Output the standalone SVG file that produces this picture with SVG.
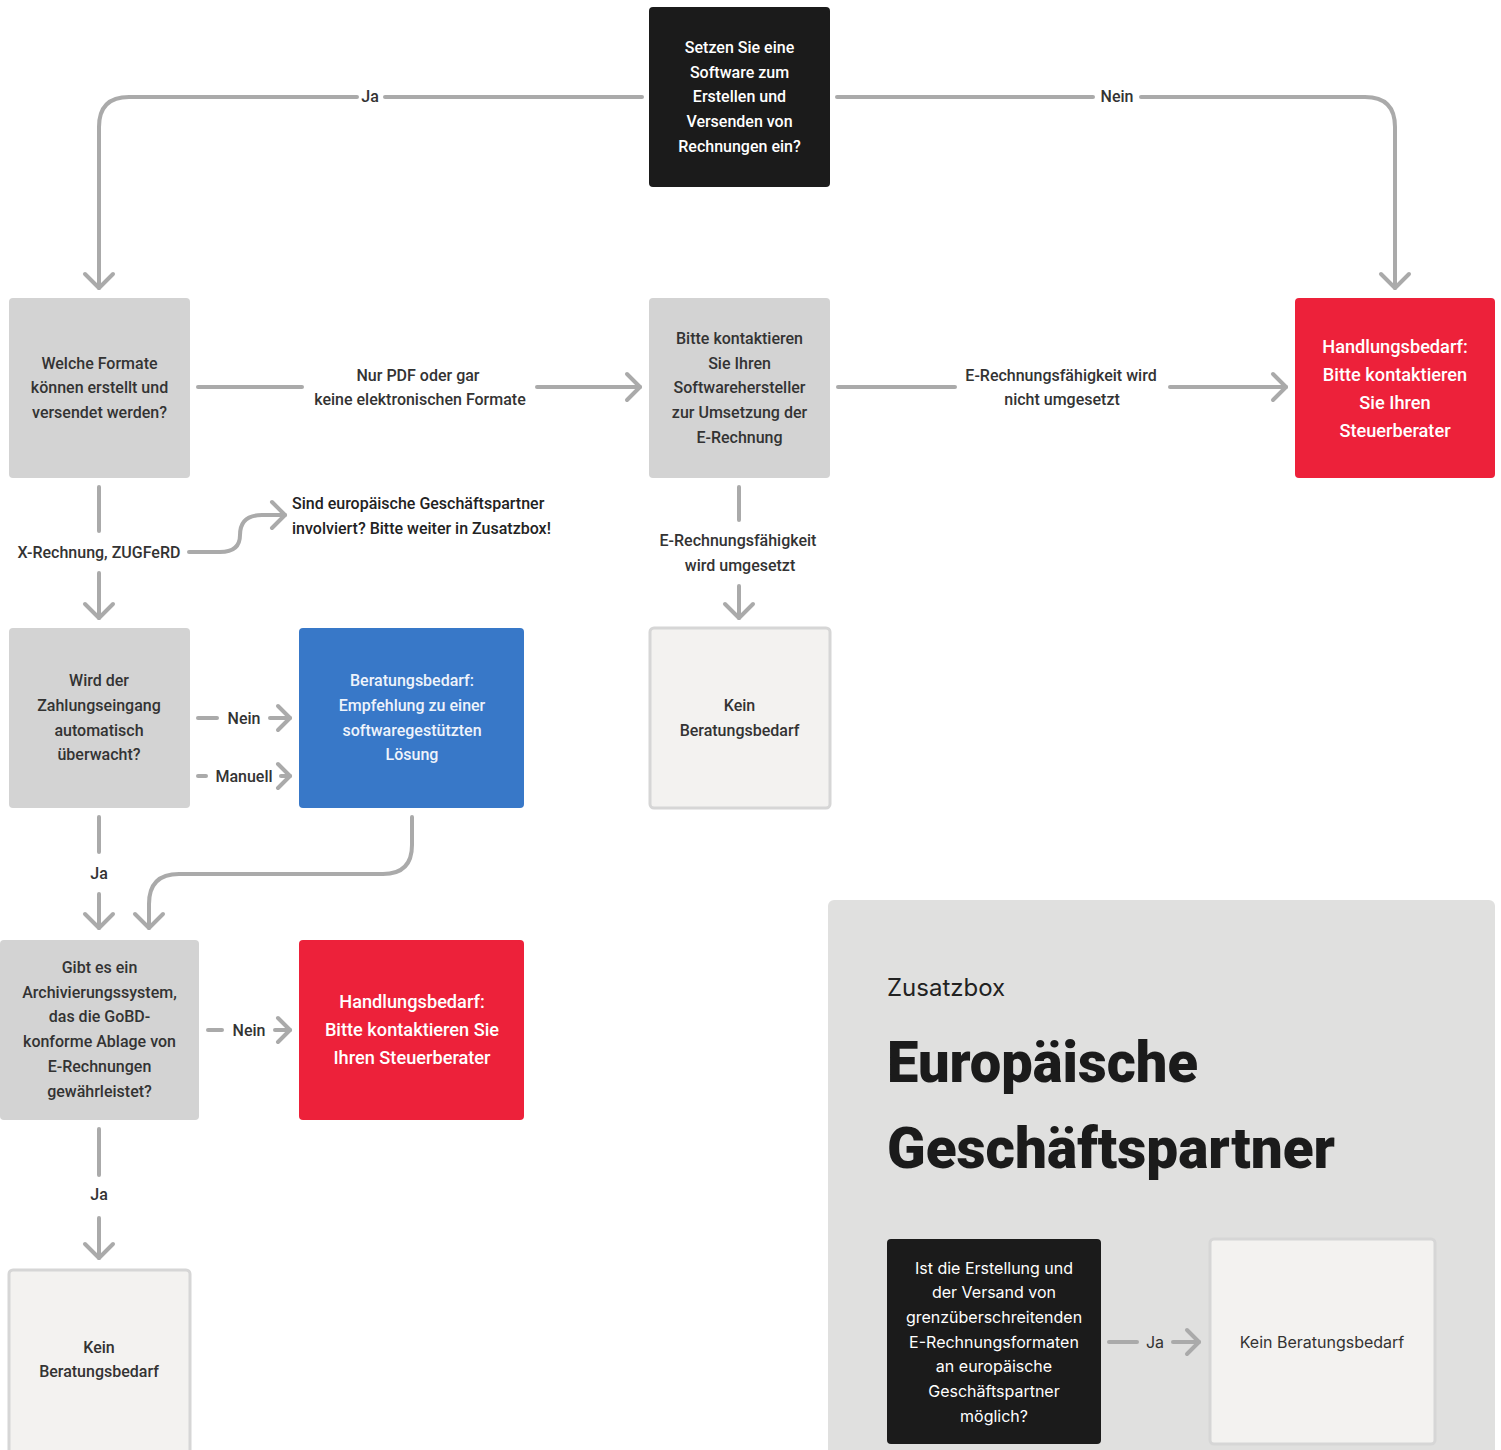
<svg xmlns="http://www.w3.org/2000/svg" width="1501" height="1450" viewBox="0 0 1501 1450">
<style>
.t{font-family:Roboto,"Liberation Sans",sans-serif;font-weight:500;font-size:16px;fill:#333;text-anchor:middle}
.w{fill:#fff}
.lg{font-size:18.2px}
.l{font-family:Roboto,"Liberation Sans",sans-serif;font-weight:500;font-size:16px;fill:#333;text-anchor:middle}
.i{font-family:Inter,"Liberation Sans",sans-serif;font-weight:400;font-size:16px;text-anchor:middle}
.c{fill:none;stroke:#aaa;stroke-width:4;stroke-linecap:round;stroke-linejoin:round}
.gray{fill:#d3d3d3}
.dark{fill:#1b1b1b}
.red{fill:#ed213a}
.blue{fill:#3878c8}
.end{fill:#f3f2f0;stroke:#d6d6d6;stroke-width:3}
</style>
<rect width="1501" height="1450" fill="#fff"/>

<g id="zusatzbox-bg">
<rect x="828" y="900" width="667" height="560" rx="6" fill="#e0e0df"/>
<text x="887" y="996" font-family="Inter,'Liberation Sans',sans-serif" font-size="24" fill="#222">Zusatzbox</text>
<text x="887" y="1082" font-family="Roboto,'Liberation Sans',sans-serif" font-weight="900" font-size="58" fill="#1b1b1b" textLength="311" lengthAdjust="spacingAndGlyphs">Europäische</text>
<text x="887" y="1168" font-family="Roboto,'Liberation Sans',sans-serif" font-weight="900" font-size="58" fill="#1b1b1b" textLength="448" lengthAdjust="spacingAndGlyphs">Geschäftspartner</text>
</g>

<g id="connectors">
<!-- top Ja -->
<path class="c" d="M642,97 L385,97"/>
<path class="c" d="M357,97 L129,97 Q99,97 99,127 L99,288"/>
<path class="c" d="M85,274 L99,288 L113,274"/>
<text class="l" x="370" y="102">Ja</text>
<!-- top Nein -->
<path class="c" d="M837,97 L1093,97"/>
<path class="c" d="M1141,97 L1365,97 Q1395,97 1395,127 L1395,288"/>
<path class="c" d="M1381,274 L1395,288 L1409,274"/>
<text class="l" x="1117" y="102">Nein</text>
<!-- Welche -> Bitte -->
<path class="c" d="M198,387 L302,387"/>
<path class="c" d="M537,387 L640,387"/>
<path class="c" d="M627,374 L640,387 L627,400"/>
<text class="l" x="418" y="381">Nur PDF oder gar</text>
<text class="l" x="420" y="405">keine elektronischen Formate</text>
<!-- Bitte -> red -->
<path class="c" d="M838,387 L955,387"/>
<path class="c" d="M1170,387 L1286,387"/>
<path class="c" d="M1273,374 L1286,387 L1273,400"/>
<text class="l" x="1061" y="381">E-Rechnungsfähigkeit wird</text>
<text class="l" x="1062" y="405">nicht umgesetzt</text>
<!-- Welche down -->
<path class="c" d="M99,487 L99,531"/>
<path class="c" d="M99,573 L99,618"/>
<path class="c" d="M85,604 L99,618 L113,604"/>
<text class="l" x="99" y="558">X-Rechnung, ZUGFeRD</text>
<path class="c" d="M189,552 L220,552 Q240,552 240,535 Q240,515 262,515 L285,515"/>
<path class="c" d="M272,502 L285,515 L272,528"/>
<text x="292" y="509" font-family="Roboto,'Liberation Sans',sans-serif" font-weight="500" font-size="16" fill="#222">Sind europäische Geschäftspartner</text>
<text x="292" y="534" font-family="Roboto,'Liberation Sans',sans-serif" font-weight="500" font-size="16" fill="#222">involviert? Bitte weiter in Zusatzbox!</text>
<!-- Bitte down -->
<path class="c" d="M739,487 L739,520"/>
<path class="c" d="M739,586 L739,618"/>
<path class="c" d="M725,604 L739,618 L753,604"/>
<text class="l" x="738" y="546">E-Rechnungsfähigkeit</text>
<text class="l" x="740" y="571">wird umgesetzt</text>
<!-- Wird -> blue -->
<path class="c" d="M198,718 L217,718"/>
<path class="c" d="M270,718 L290,718"/>
<path class="c" d="M278,706 L290,718 L278,730"/>
<text class="l" x="244" y="724">Nein</text>
<path class="c" d="M198,776 L206,776"/>
<path class="c" d="M281,776 L290,776"/>
<path class="c" d="M278,764 L290,776 L278,788"/>
<text class="l" x="244" y="782">Manuell</text>
<!-- Wird down -->
<path class="c" d="M99,817 L99,852"/>
<path class="c" d="M99,894 L99,928"/>
<path class="c" d="M85,914 L99,928 L113,914"/>
<text class="l" x="99" y="879">Ja</text>
<!-- blue down -->
<path class="c" d="M412,817 L412,845 Q412,874 383,874 L179,874 Q149,874 149,904 L149,928"/>
<path class="c" d="M135,914 L149,928 L163,914"/>
<!-- Gibt -> red -->
<path class="c" d="M208,1030 L222,1030"/>
<path class="c" d="M275,1030 L290,1030"/>
<path class="c" d="M278,1018 L290,1030 L278,1042"/>
<text class="l" x="249" y="1036">Nein</text>
<!-- Gibt down -->
<path class="c" d="M99,1129 L99,1175"/>
<path class="c" d="M99,1218 L99,1258"/>
<path class="c" d="M85,1244 L99,1258 L113,1244"/>
<text class="l" x="99" y="1200">Ja</text>
<!-- Zusatz Ja -->
<path class="c" d="M1109,1342 L1137,1342"/>
<path class="c" d="M1173,1342 L1199,1342"/>
<path class="c" d="M1187,1330 L1199,1342 L1187,1354"/>
<text class="i" x="1155" y="1348" fill="#333">Ja</text>
</g>

<g id="n-start">
<rect class="dark" x="649" y="7" width="181" height="180" rx="4"/>
<text class="t w"><tspan x="739.5" y="53">Setzen Sie eine</tspan><tspan x="739.5" y="78">Software zum</tspan><tspan x="739.5" y="102">Erstellen und</tspan><tspan x="739.5" y="127">Versenden von</tspan><tspan x="739.5" y="152">Rechnungen ein?</tspan></text>
</g>

<g id="n-formate">
<rect class="gray" x="9" y="298" width="181" height="180" rx="4"/>
<text class="t"><tspan x="99.5" y="369">Welche Formate</tspan><tspan x="99.5" y="393">können erstellt und</tspan><tspan x="99.5" y="418">versendet werden?</tspan></text>
</g>

<g id="n-hersteller">
<rect class="gray" x="649" y="298" width="181" height="180" rx="4"/>
<text class="t"><tspan x="739.5" y="344">Bitte kontaktieren</tspan><tspan x="739.5" y="369">Sie Ihren</tspan><tspan x="739.5" y="393">Softwarehersteller</tspan><tspan x="739.5" y="418">zur Umsetzung der</tspan><tspan x="739.5" y="443">E-Rechnung</tspan></text>
</g>

<g id="n-handlung1">
<rect class="red" x="1295" y="298" width="200" height="180" rx="4"/>
<text class="t w lg"><tspan x="1395" y="353">Handlungsbedarf:</tspan><tspan x="1395" y="381">Bitte kontaktieren</tspan><tspan x="1395" y="409">Sie Ihren</tspan><tspan x="1395" y="437">Steuerberater</tspan></text>
</g>

<g id="n-zahlung">
<rect class="gray" x="9" y="628" width="181" height="180" rx="4"/>
<text class="t"><tspan x="99" y="686">Wird der</tspan><tspan x="99" y="711">Zahlungseingang</tspan><tspan x="99" y="736">automatisch</tspan><tspan x="99" y="760">überwacht?</tspan></text>
</g>

<g id="n-beratung">
<rect class="blue" x="299" y="628" width="225" height="180" rx="4"/>
<text class="t" style="fill:#eef3fb"><tspan x="412" y="686">Beratungsbedarf:</tspan><tspan x="412" y="711">Empfehlung zu einer</tspan><tspan x="412" y="736">softwaregestützten</tspan><tspan x="412" y="760">Lösung</tspan></text>
</g>

<g id="n-kein1">
<rect class="end" x="650" y="628" width="180" height="180" rx="4"/>
<text class="t"><tspan x="739.5" y="711">Kein</tspan><tspan x="739.5" y="736">Beratungsbedarf</tspan></text>
</g>

<g id="n-archiv">
<rect class="gray" x="0" y="940" width="199" height="180" rx="4"/>
<text class="t"><tspan x="99.5" y="973">Gibt es ein</tspan><tspan x="99.5" y="998">Archivierungssystem,</tspan><tspan x="99.5" y="1022">das die GoBD-</tspan><tspan x="99.5" y="1047">konforme Ablage von</tspan><tspan x="99.5" y="1072">E-Rechnungen</tspan><tspan x="99.5" y="1097">gewährleistet?</tspan></text>
</g>

<g id="n-handlung2">
<rect class="red" x="299" y="940" width="225" height="180" rx="4"/>
<text class="t w lg"><tspan x="412" y="1008">Handlungsbedarf:</tspan><tspan x="412" y="1036">Bitte kontaktieren Sie</tspan><tspan x="412" y="1064">Ihren Steuerberater</tspan></text>
</g>

<g id="n-kein2">
<rect class="end" x="9" y="1270" width="181" height="185" rx="4"/>
<text class="t"><tspan x="99" y="1353">Kein</tspan><tspan x="99" y="1377">Beratungsbedarf</tspan></text>
</g>

<g id="n-eu">
<rect class="dark" x="887" y="1239" width="214" height="205" rx="4"/>
<text class="i" fill="#fff"><tspan x="994" y="1274">Ist die Erstellung und</tspan><tspan x="994" y="1298">der Versand von</tspan><tspan x="994" y="1323">grenzüberschreitenden</tspan><tspan x="994" y="1348">E-Rechnungsformaten</tspan><tspan x="994" y="1372">an europäische</tspan><tspan x="994" y="1397">Geschäftspartner</tspan><tspan x="994" y="1422">möglich?</tspan></text>
</g>

<g id="n-kein3">
<rect class="end" x="1210" y="1239" width="225" height="205" rx="4"/>
<text class="i" x="1322" y="1348" fill="#333">Kein Beratungsbedarf</text>
</g>
</svg>
